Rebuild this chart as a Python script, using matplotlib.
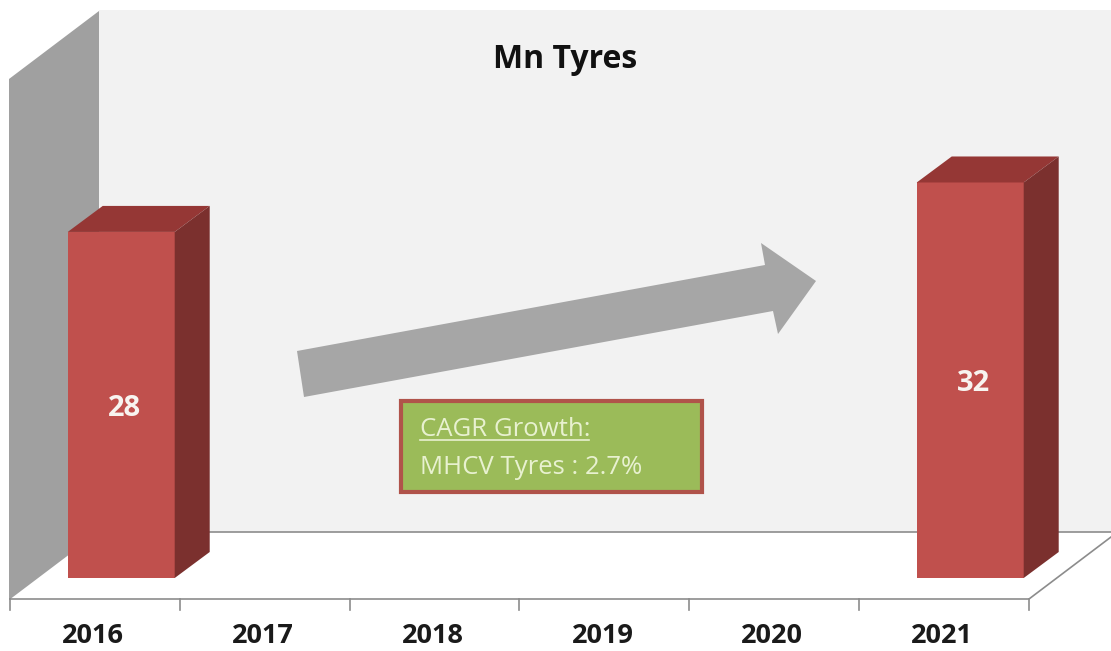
import matplotlib
matplotlib.use('Agg')
import matplotlib.pyplot as plt
from matplotlib.patches import Polygon, Rectangle

years = ['2016', '2017', '2018', '2019', '2020', '2021']
tyres = [28, None, None, None, None, 32]
title = 'Mn Tyres'
cagr_head = 'CAGR Growth:'
cagr_line = 'MHCV Tyres : 2.7%'

W, H = 1111, 651
plt.rcParams['font.family'] = ['Open Sans', 'DejaVu Sans']

# escala: una categoria = 169.8 px, una unidad = 12.36 px, cero en y=578 px
CAT_PX = 169.8
UNIT_PX = 12.36
X0_PX = 10
Y0_PX = 578

def px(x):
    return (x - X0_PX) / CAT_PX - 0.5

def py(y):
    return (Y0_PX - y) / UNIT_PX

def pts(lista):
    return [(px(x), py(y)) for x, y in lista]

fig = plt.figure(figsize=(W / 100, H / 100), dpi=100, facecolor='white')
ax = fig.add_axes([0, 0, 1, 1])
ax.set_xlim(px(0), px(W))
ax.set_ylim(py(H), py(0))
ax.axis('off')

# paredes y suelo de la caja 3D
ax.add_patch(Polygon(pts([(99, 10), (1111, 10), (1111, 532), (99, 532)]), fc='#f2f2f2', ec='none', zorder=1))
ax.add_patch(Polygon(pts([(9, 79), (99, 11), (99, 532), (9, 600)]), fc='#a0a0a0', ec='none', zorder=2))
ax.plot(*zip(*pts([(99, 531.5), (1111, 531.5)])), color='#8c8c8c', lw=1.2, zorder=2)
ax.plot(*zip(*pts([(10, 599), (1029, 599), (1111, 537)])), color='#8c8c8c', lw=1.2, zorder=2)

# marcas del eje entre categorias
for i in range(len(years) + 1):
    ax.plot([i - 0.5, i - 0.5], [py(599), py(610)], color='#8c8c8c', lw=1.2, zorder=2)

for i, year in enumerate(years):
    ax.text(i - 0.01, py(636), year, ha='center', va='center', fontsize=19.5, fontweight='bold', color='#1a1a1a', zorder=6)

# barras con profundidad
bar_shift = 0.155
bar_width = 0.63
dx = 35 / CAT_PX
dy = 26 / UNIT_PX
for i, val in enumerate(tyres):
    if val is None:
        continue
    c = i + bar_shift
    left, right = c - bar_width / 2, c + bar_width / 2
    ax.bar(c, val, width=bar_width, color='#c0504d', edgecolor='none', zorder=4)
    ax.add_patch(Polygon([(left, val), (right, val), (right + dx, val + dy), (left + dx, val + dy)],
                         fc='#953735', ec='none', zorder=4))
    ax.add_patch(Polygon([(right, 0), (right + dx, dy), (right + dx, val + dy), (right, val)],
                         fc='#7b302e', ec='none', zorder=4))
    ax.text(c + 0.02, val / 2 - 0.3, str(val), ha='center', va='center', fontsize=21, fontweight='bold', color='#f8f4f0', zorder=5)

ax.text(px(565), py(59), title, ha='center', va='center', fontsize=23, fontweight='bold', color='#111111', zorder=5)

# flecha de crecimiento
ax.add_patch(Polygon(pts([(297, 351), (765, 265), (761, 243), (816, 281), (778, 334), (773, 311), (304, 397)]),
                     fc='#a6a6a6', ec='none', zorder=3))

# recuadro CAGR
ax.add_patch(Rectangle((px(401), py(492)), px(702) - px(401), py(401) - py(492),
                       fc='#9bbb59', ec='#b0534a', lw=3, zorder=3))
ax.text(px(420), py(430), cagr_head, ha='left', va='center', fontsize=18.5, color='#e8f1d0', zorder=5)
ax.plot([px(420), px(589)], [py(440), py(440)], color='#e8f1d0', lw=1.2, zorder=5)
ax.text(px(420), py(468), cagr_line, ha='left', va='center', fontsize=18.5, color='#e8f1d0', zorder=5)

fig.savefig('out.png', dpi=100, facecolor='white')
